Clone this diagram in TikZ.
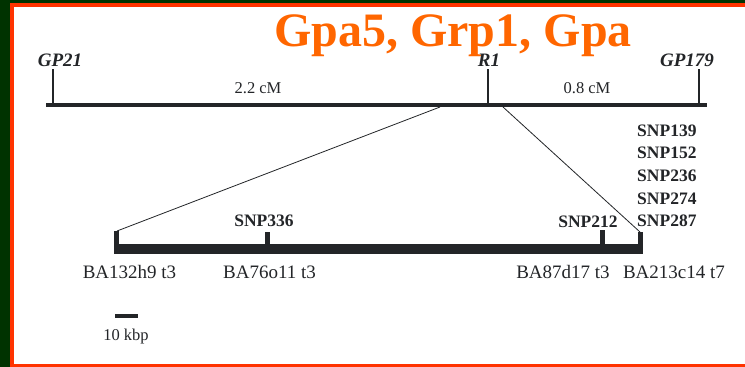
\documentclass[tikz,border=0pt]{standalone}
\usepackage{fontspec}
\setmainfont{Liberation Serif}
\definecolor{bgreen}{HTML}{003300}
\definecolor{bord}{HTML}{FF3300}
\definecolor{ttl}{HTML}{FF6600}
\definecolor{ink}{HTML}{232528}
\begin{document}
\begin{tikzpicture}[x=1pt,y=-1pt,
  lbl/.style={inner sep=0pt,anchor=base,text=ink,font=\fontsize{19}{19}\selectfont},
  mk/.style={inner sep=0pt,anchor=base,text=ink,font=\fontsize{19}{19}\selectfont\bfseries\itshape},
  snp/.style={inner sep=0pt,anchor=base,text=ink,font=\fontsize{17.5}{17.5}\selectfont\bfseries},
  dist/.style={inner sep=0pt,anchor=base,text=ink,font=\fontsize{16.5}{16.5}\selectfont},
  tickln/.style={draw=ink,line width=1.2pt},
  blk/.style={fill=ink,draw=none},
  thin/.style={draw=ink,line width=0.8pt}]
% background and frame
\fill[bgreen] (0,0) rectangle (745,367);
\fill[bord] (10,3) rectangle (745,367);
\fill[white] (14,7) rectangle (745,364);
\useasboundingbox (0,0) rectangle (745,367);
% title
\node[inner sep=0pt,anchor=base,text=ttl,font=\fontsize{48}{48}\selectfont\bfseries] (title) at (453,46) {Gpa5, Grp1, Gpa};
% top chromosome line
\coordinate (tl) at (46,105);
\coordinate (tr) at (707,105);
\draw[ink,line width=3.6pt] (tl) -- (tr);
\coordinate (t1) at (53,105);
\coordinate (t2) at (488,105);
\coordinate (t3) at (699,105);
\draw[tickln] (t1) -- ++(0,-36);
\draw[tickln] (t2) -- ++(0,-36);
\draw[tickln] (t3) -- ++(0,-36);
\node[mk] (gp21) at (60,66) {GP21};
\node[mk] (r1) at (489,66) {R1};
\node[mk] (gp179) at (687,66) {GP179};
\node[dist] (d1) at (258,93) {2.2 cM};
\node[dist] (d2) at (587,93) {0.8 cM};
% lower contig bar
\fill[ink] (114,244) rectangle (643,254);
\fill[ink] (114,231) rectangle (119,254);
\fill[ink] (265,232) rectangle (270,254);
\fill[ink] (600,230) rectangle (605,254);
\fill[ink] (638,232) rectangle (643,254);
\coordinate (lt) at (117,231);
\coordinate (rt) at (640,232);
\coordinate (zl) at (440,107);
\coordinate (zr) at (503,107);
\draw[thin] (zl) -- (lt);
\draw[thin] (zr) -- (rt);
% SNP labels
\node[snp] (s336) at (264,226) {SNP336};
\node[snp] (s212) at (588,227) {SNP212};
\node[snp,anchor=base west] (s139) at (637,136) {SNP139};
\node[snp,anchor=base west] (s152) at (637,158.7) {SNP152};
\node[snp,anchor=base west] (s236) at (637,181.3) {SNP236};
\node[snp,anchor=base west] (s274) at (637,204) {SNP274};
\node[snp,anchor=base west] (s287) at (637,226.7) {SNP287};
% BAC labels
\node[lbl] (b1) at (129.5,278) {BA132h9 t3};
\node[lbl] (b2) at (269.5,278) {BA76o11 t3};
\node[lbl] (b3) at (563,278) {BA87d17 t3};
\node[lbl] (b4) at (674,278) {BA213c14 t7};
% scale bar
\coordinate (sb1) at (115,316);
\coordinate (sb2) at (138,316);
\draw[ink,line width=4pt] (sb1) -- (sb2);
\node[dist] (kbp) at (126,340) {10 kbp};
\end{tikzpicture}
\end{document}
